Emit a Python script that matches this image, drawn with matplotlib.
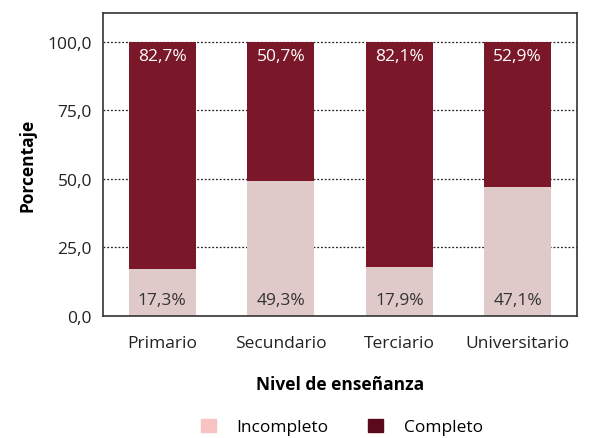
import numpy as np
import matplotlib.pyplot as plt
from matplotlib.patches import Patch

plt.rcParams['font.family'] = ['Open Sans', 'DejaVu Sans']

# Data
niveles = ['Primario', 'Secundario', 'Terciario', 'Universitario']
incompleto = [17.3, 49.3, 17.9, 47.1]
completo = [82.7, 50.7, 82.1, 52.9]

col_inc = '#dfc9c9'
col_comp = '#7a1829'

fig = plt.figure(figsize=(5.95, 4.39), dpi=100)
ax = fig.add_axes([103 / 595, 1 - 317 / 439, 474 / 595, 303 / 439])

x = np.arange(len(niveles))
w = 0.565
ax.bar(x, incompleto, w, color=col_inc, zorder=2)
ax.bar(x, completo, w, bottom=incompleto, color=col_comp, zorder=2)

for xi, vi, vc in zip(x, incompleto, completo):
    ax.text(xi, 6.0, f'{vi:.1f}%'.replace('.', ','), ha='center', va='center',
            fontsize=12.5, color='#333333', zorder=3)
    ax.text(xi, 94.8, f'{vc:.1f}%'.replace('.', ','), ha='center', va='center',
            fontsize=12.5, color='white', zorder=3)

ax.set_xlim(-0.5, 3.5)
ax.set_ylim(0, 110.5)
ax.set_yticks([0, 25, 50, 75, 100])
ax.set_yticklabels(['0,0', '25,0', '50,0', '75,0', '100,0'])
ax.set_xticks(x)
ax.set_xticklabels(niveles)
ax.tick_params(axis='both', length=0, labelsize=12.5, colors='#222222', pad=8)
ax.tick_params(axis='x', pad=14)
ax.yaxis.grid(True, linestyle=(0, (1.5, 1.5)), color='#222222', linewidth=0.9, zorder=0)
for s in ax.spines.values():
    s.set_color('#333333')
    s.set_linewidth(1.2)

ax.set_xlabel('Nivel de enseñanza', fontsize=12.5, fontweight='bold', labelpad=17)
ax.set_ylabel('Porcentaje', fontsize=12.5, fontweight='bold', labelpad=8)

handles = [Patch(color='#f8c3c3'), Patch(color='#5a0a1a')]
fig.legend(handles, ['Incompleto', 'Completo'], loc='center', ncol=2,
           bbox_to_anchor=(342 / 595, 1 - 428 / 439), frameon=False, fontsize=12.5,
           handlelength=0.85, handleheight=0.85, columnspacing=2.3, handletextpad=1.2)

fig.savefig('out.png', dpi=100)
